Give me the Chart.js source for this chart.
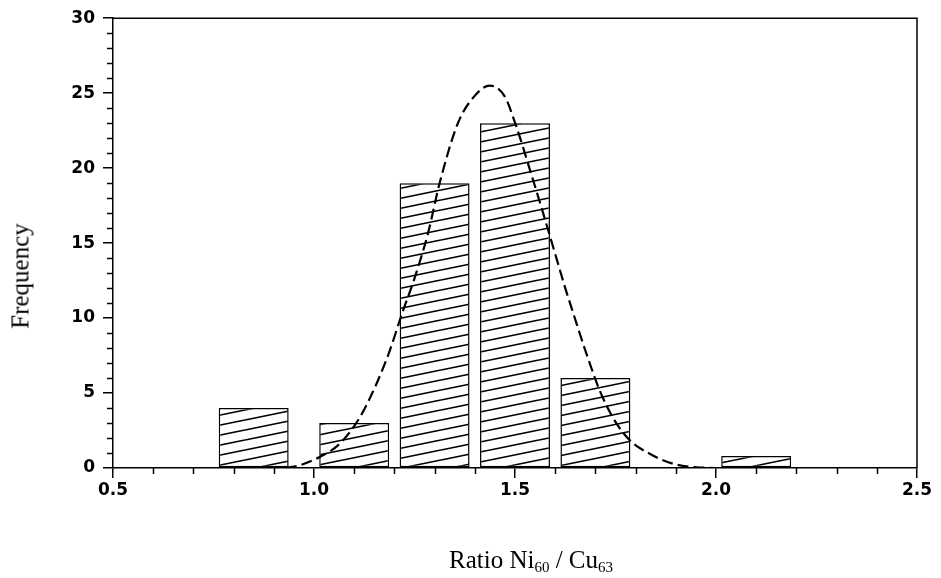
<!DOCTYPE html>
<html>
<head>
<meta charset="utf-8">
<script src="https://cdn.jsdelivr.net/npm/chart.js@4.4.1/dist/chart.umd.min.js"></script>
<style>
  html, body { margin: 0; padding: 0; background: #fff; }
  #wrap { position: relative; width: 941px; height: 578px; background: #fff; }
  #c { position: absolute; left: 0; top: 0; }
  .ttl { position: absolute; font-family: "Liberation Serif", "Times New Roman", serif; font-size: 25px; color: #000; white-space: nowrap; line-height: 1; }
  #ytitle { left: 20px; top: 276px; transform: translate(-50%, -50%) rotate(-90deg); }
  #xtitle { left: 531px; top: 547px; transform: translateX(-50%); }
  #xtitle sub { font-size: 15px; vertical-align: -4px; line-height: 0; }
</style>
</head>
<body>
<div id="wrap">
  <canvas id="c" width="941" height="578"></canvas>
  <div class="ttl" id="ytitle">Frequency</div>
  <div class="ttl" id="xtitle">Ratio Ni<sub>60</sub> / Cu<sub>63</sub></div>
</div>
<script>
// ---- data ----
const binCenters = [0.85, 1.10, 1.30, 1.50, 1.70, 2.10];
const frequencies = [4, 3, 19, 23, 6, 0.8];
const curveX = [0.93, 0.964, 1.014, 1.064, 1.114, 1.155, 1.188, 1.219, 1.25, 1.284, 1.313, 1.358, 1.396, 1.437, 1.474, 1.503, 1.537, 1.57, 1.603, 1.625, 1.644, 1.678, 1.711, 1.748, 1.786, 1.835, 1.893, 1.951, 2.0];
const curveY = [0, 0.18, 0.73, 1.62, 3.38, 5.59, 7.79, 10.3, 12.65, 15.7, 19.05, 23.0, 24.7, 25.5, 24.8, 22.8, 19.9, 17.0, 14.0, 12.0, 10.4, 7.6, 5.15, 3.16, 1.84, 0.95, 0.29, 0.05, 0];
const xTickLabels = ['0.5', '1.0', '1.5', '2.0', '2.5'];
const yTickLabels = ['0', '5', '10', '15', '20', '25', '30'];

function makeHatch() {
  const c = document.createElement('canvas');
  c.width = 49; c.height = 10;
  const g = c.getContext('2d');
  g.fillStyle = '#fff';
  g.fillRect(0, 0, 49, 10);
  g.strokeStyle = '#000';
  g.lineWidth = 1.6;
  for (let k = -1; k <= 1; k++) {
    g.beginPath();
    g.moveTo(0, 10 + 10 * k);
    g.lineTo(49, 10 * k);
    g.stroke();
  }
  return g.createPattern(c, 'repeat');
}

const minorTicks = {
  id: 'minorTicks',
  afterDraw(chart) {
    const ctx = chart.ctx;
    const xs = chart.scales.x, ys = chart.scales.y;
    const a = chart.chartArea;
    ctx.save();
    ctx.strokeStyle = '#000';
    ctx.lineWidth = 1.5;
    for (let i = 5; i <= 25; i++) {
      if (i % 5 === 0) continue;
      const px = Math.round(xs.getPixelForValue(i / 10)) + 0.5;
      ctx.beginPath(); ctx.moveTo(px, a.bottom); ctx.lineTo(px, a.bottom + 6); ctx.stroke();
    }
    for (let j = 0; j <= 30; j++) {
      if (j % 5 === 0) continue;
      const py = Math.round(ys.getPixelForValue(j)) + 0.5;
      ctx.beginPath(); ctx.moveTo(a.left - 6, py); ctx.lineTo(a.left, py); ctx.stroke();
    }
    // frame: top and right
    ctx.lineWidth = 1.5;
    ctx.beginPath();
    ctx.moveTo(a.left, a.top); ctx.lineTo(a.right, a.top); ctx.lineTo(a.right, a.bottom);
    ctx.stroke();
    ctx.restore();
  }
};

const tickFont = { family: '"DejaVu Sans", sans-serif', size: 17, weight: 'bold' };

new Chart(document.getElementById('c'), {
  type: 'bar',
  data: {
    datasets: [
      {
        type: 'line',
        data: curveX.map((x, i) => ({ x: x, y: curveY[i] })),
        borderColor: '#000',
        borderWidth: 2.2,
        borderDash: [11, 5],
        pointRadius: 0,
        fill: false,
        cubicInterpolationMode: 'monotone',
        order: 0
      },
      {
        type: 'bar',
        data: binCenters.map((x, i) => ({ x: x, y: frequencies[i] })),
        backgroundColor: makeHatch(),
        borderColor: '#000',
        borderWidth: 1.5,
        borderSkipped: false,
        categoryPercentage: 1,
        barPercentage: 0.87,
        order: 1
      }
    ]
  },
  options: {
    responsive: false,
    animation: false,
    layout: { padding: { top: 15, right: 24, left: 0, bottom: 0 } },
    plugins: { legend: { display: false }, tooltip: { enabled: false } },
    scales: {
      x: {
        type: 'linear',
        min: 0.5, max: 2.5,
        offset: false,
        afterFit(s) { s.height = 110; },
        afterBuildTicks(s) { s.ticks = xTickLabels.map(t => ({ value: parseFloat(t) })); },
        ticks: {
          color: '#000', font: tickFont, padding: 2, maxRotation: 0,
          callback: (v) => xTickLabels.find(t => Math.abs(parseFloat(t) - v) < 1e-6) || ''
        },
        grid: { offset: false, drawOnChartArea: false, drawTicks: true, tickLength: 10, color: '#000', lineWidth: 1.5 },
        border: { display: true, color: '#000', width: 1.5 }
      },
      y: {
        min: 0, max: 30,
        afterFit(s) { s.width = 113; },
        afterBuildTicks(s) { s.ticks = yTickLabels.map(t => ({ value: parseFloat(t) })); },
        ticks: {
          color: '#000', font: tickFont, padding: 8,
          callback: (v) => yTickLabels.find(t => parseFloat(t) === v) || ''
        },
        grid: { offset: false, drawOnChartArea: false, drawTicks: true, tickLength: 10, color: '#000', lineWidth: 1.5 },
        border: { display: true, color: '#000', width: 1.5 }
      }
    }
  },
  plugins: [minorTicks]
});
</script>
</body>
</html>
